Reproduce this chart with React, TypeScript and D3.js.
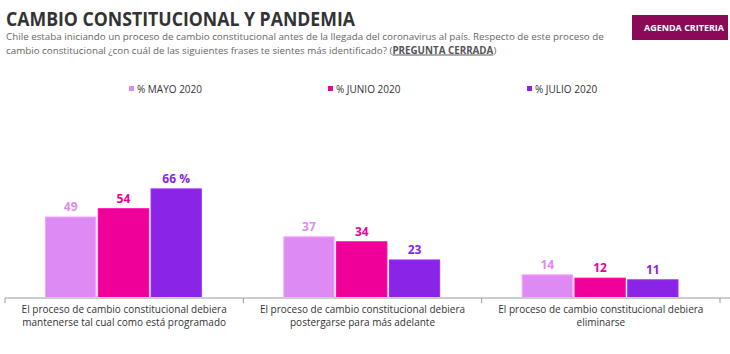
import * as d3 from "d3";

const categories = [
  ["El proceso de cambio constitucional debiera", "mantenerse tal cual como está programado"],
  ["El proceso de cambio constitucional debiera", "postergarse para más adelante"],
  ["El proceso de cambio constitucional debiera", "eliminarse"],
];
const seriesNames = ["% MAYO 2020", "% JUNIO 2020", "% JULIO 2020"];
const mayo = [49, 37, 14];
const junio = [54, 34, 12];
const julio = [66, 23, 11];
const seriesColors = ["#dd8af5", "#ee0099", "#8a24e6"];

const W = 730;
const H = 354;
const FONT = "'Open Sans', 'DejaVu Sans', sans-serif";

export default function App() {
  const values = [mayo, junio, julio];
  const base = 298;

  // category bands along the axis
  const x = d3.scaleBand<number>().domain(d3.range(categories.length)).range([5, 720]).padding(0);
  const y = d3.scaleLinear().domain([0, 100]).range([base, base - 165.3]);

  const inner = (ci: number) => {
    const x0 = x(ci)!;
    return d3.scaleBand<number>().domain(d3.range(seriesNames.length)).range([x0 + 40, x0 + x.bandwidth() - 40]).padding(0);
  };

  const ticks = [...x.domain().map((i) => x(i)!), 720];

  return (
    <svg width={W} height={H} style={{ position: "absolute", left: 0, top: 0, fontFamily: FONT }}>
      <rect width={W} height={H} fill="#fff" />
      {/* header */}
      <text x={6} y={26} fontSize={19} fontWeight={700} fill="#333" textLength={349} lengthAdjust="spacingAndGlyphs">
        CAMBIO CONSTITUCIONAL Y PANDEMIA
      </text>
      <text x={6} y={40} fontSize={9.8} fill="#666">
        Chile estaba iniciando un proceso de cambio constitucional antes de la llegada del coronavirus al país. Respecto de este proceso de
      </text>
      <text x={6} y={53.5} fontSize={9.8} fill="#666">
        cambio constitucional ¿con cuál de las siguientes frases te sientes más identificado? (
        <tspan fontWeight={700} fill="#555" textDecoration="underline">PREGUNTA CERRADA</tspan>)
      </text>
      <rect x={632} y={15} width={96} height={25} fill="#8b0a57" />
      <text x={684} y={31} fontSize={9.5} fontWeight={700} fill="#fff" textAnchor="middle" textLength={80} lengthAdjust="spacingAndGlyphs">
        AGENDA CRITERIA
      </text>

      {/* legend */}
      {seriesNames.map((s, i) => (
        <g key={s} transform={`translate(${129 + i * 199},89)`}>
          <rect x={0} y={-3} width={5} height={5} fill={seriesColors[i]} />
          <text x={8} y={3.5} fontSize={10} fill="#333">{s}</text>
        </g>
      ))}

      {/* bars */}
      {categories.map((_, ci) => {
        const xi = inner(ci);
        return values.map((vals, si) => {
          const v = vals[ci];
          const bx = xi(si)!;
          const bw = xi.bandwidth() - 1.5;
          return (
            <g key={`${ci}-${si}`}>
              <rect x={bx + 0.5} y={y(v)} width={bw - 1} height={base - y(v)} fill={seriesColors[si]}
                stroke={d3.color(seriesColors[si])!.brighter(0.4).formatHex()} strokeWidth={1} />
              <text x={bx + bw / 2} y={y(v) - 6} fontSize={12} fontWeight={700} fill={seriesColors[si]} textAnchor="middle">
                {ci === 0 && si === 2 ? `${v} %` : v}
              </text>
            </g>
          );
        });
      })}

      {/* axis */}
      <line x1={5} x2={730} y1={base} y2={base} stroke="#ccc" strokeWidth={2} />
      {ticks.map((t) => (
        <line key={t} x1={t} x2={t} y1={base} y2={base + 5} stroke="#999" strokeWidth={1} />
      ))}
      {categories.map((lines, ci) =>
        lines.map((l, li) => (
          <text key={`${ci}-${li}`} x={x(ci)! + x.bandwidth() / 2} y={312.5 + li * 13} textAnchor="middle" fontSize={10} fill="#333">
            {l}
          </text>
        ))
      )}
    </svg>
  );
}
